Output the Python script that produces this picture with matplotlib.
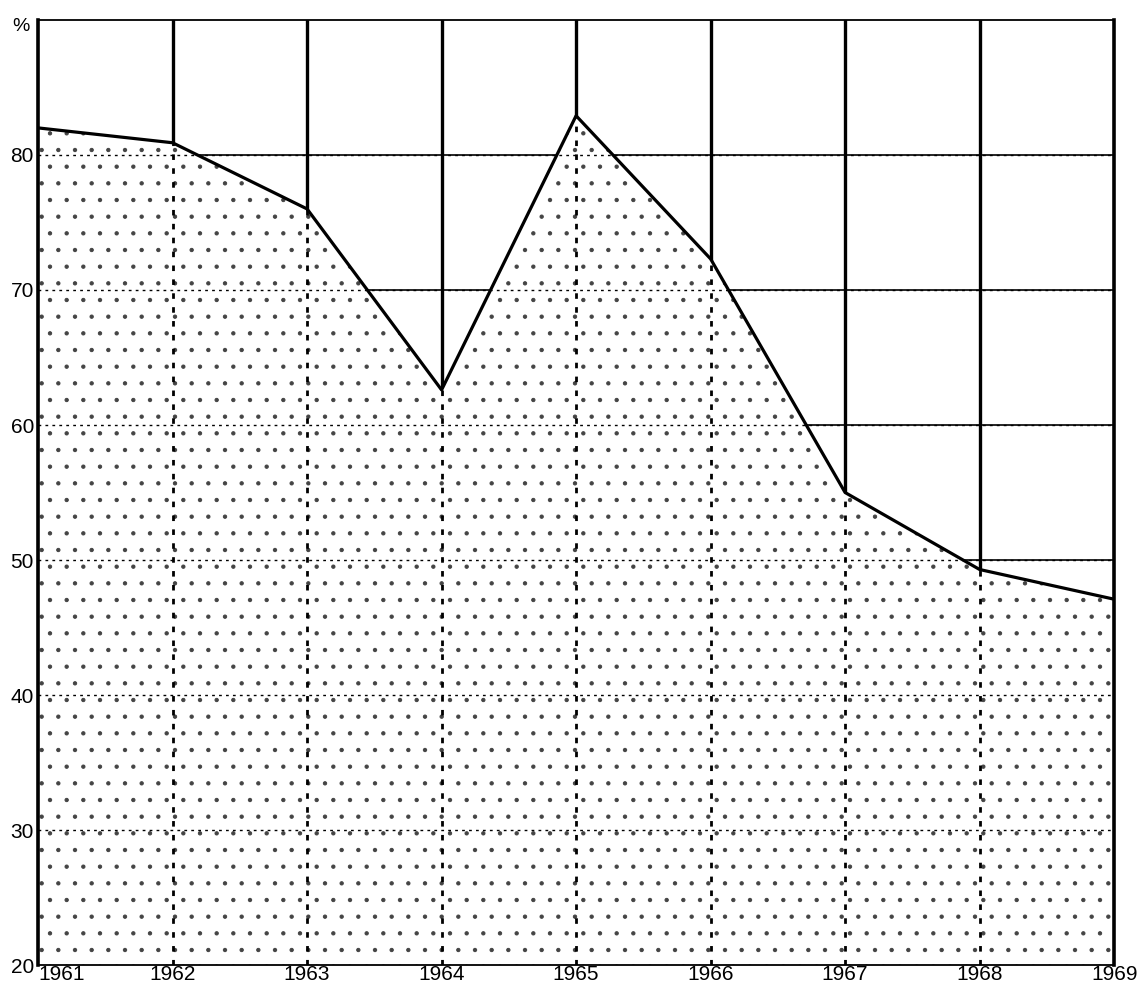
import matplotlib.pyplot as plt
import matplotlib as mpl

years = [1961, 1962, 1963, 1964, 1965, 1966, 1967, 1968, 1969]
share = [82.0, 80.9, 76.0, 62.6, 82.9, 72.3, 55.0, 49.3, 47.1]
y_ticks = [20, 30, 40, 50, 60, 70, 80]

mpl.rcParams["font.family"] = ["Liberation Sans", "DejaVu Sans"]
mpl.rcParams["hatch.linewidth"] = 0.7

fig = plt.figure(figsize=(11.46, 9.93), dpi=100)
ax = fig.add_axes([0.0332, 0.028, 0.9390, 0.952])
ax.set_xlim(years[0], years[-1])
ax.set_ylim(20, 90)

# solid grid (visible above the shaded area)
for yr in years[1:-1]:
    ax.axvline(yr, color="black", lw=2.4, zorder=1)
for v in y_ticks[1:]:
    ax.axhline(v, color="black", lw=1.2, zorder=1)

# stippled area under the curve
ax.fill_between(years, 20, share, facecolor="white", edgecolor="#444444",
                hatch=".", lw=0, zorder=2)

# dotted grid inside the shaded area
for yr in years[1:-1]:
    ax.axvline(yr, color="black", lw=2.0, ls=(0, (2, 3)), zorder=3)
for v in y_ticks[1:]:
    ax.axhline(v, color="black", lw=1.0, ls=(0, (2, 3)), zorder=3)

ax.plot(years, share, color="black", lw=2.3, zorder=4)

for side in ["left", "right"]:
    ax.spines[side].set_linewidth(2.6)
ax.spines["top"].set_linewidth(1.3)
ax.spines["bottom"].set_linewidth(1.3)
ax.spines["bottom"].set_linestyle((0, (3, 1)))

ax.set_xticks(years)
ax.set_xticklabels([str(y) for y in years], fontsize=15)
ax.get_xticklabels()[0].set_ha("left")
ax.get_xticklabels()[-1].set_ha("center")
ax.set_yticks(y_ticks)
ax.set_yticklabels([str(v) for v in y_ticks], fontsize=15)
ax.tick_params(axis="x", length=0, pad=0)
ax.tick_params(axis="y", length=0, pad=3)
ax.text(-0.008, 0.993, "%", transform=ax.transAxes, ha="right", va="center",
        fontsize=14)

fig.savefig("out.png", dpi=100)
